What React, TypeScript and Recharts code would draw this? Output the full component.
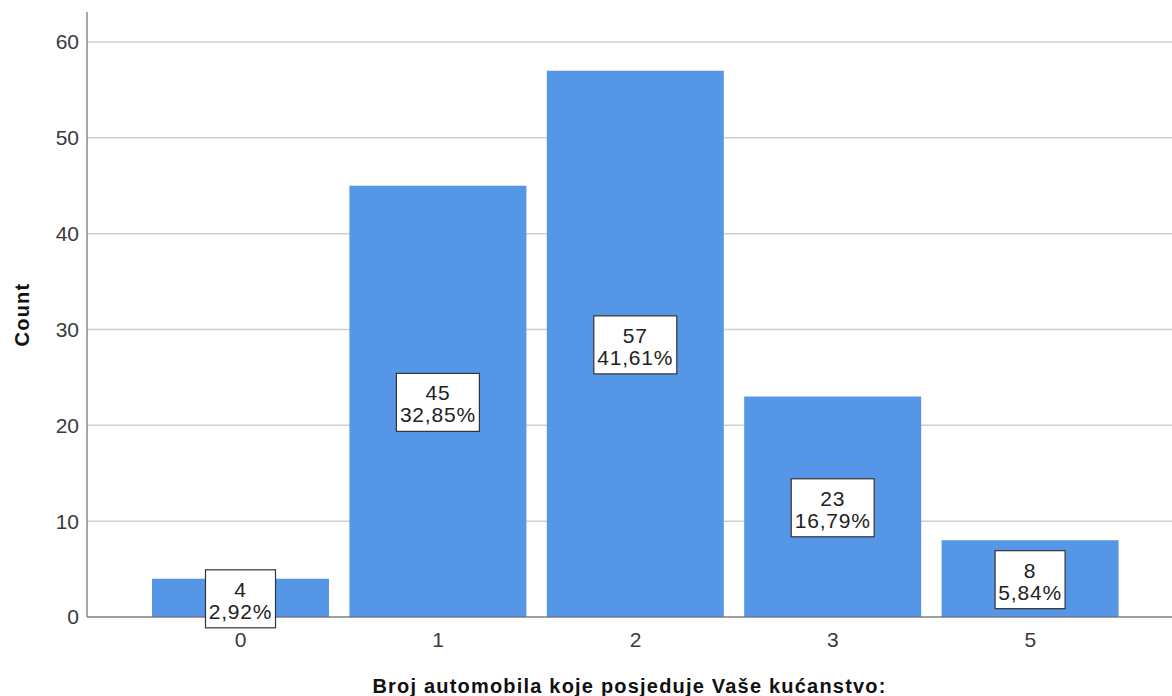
import React from 'react';
import { BarChart, Bar, XAxis, YAxis, CartesianGrid, LabelList } from 'recharts';

const categories = ['0', '1', '2', '3', '5'];
const counts = [4, 45, 57, 23, 8];
const percentLabels = ['2,92%', '32,85%', '41,61%', '16,79%', '5,84%'];
const yTicks = [0, 10, 20, 30, 40, 50, 60];
const yMax = 63.13;

const data = categories.map((c, i) => ({ cat: c, count: counts[i], pct: percentLabels[i] }));

const FONT = '"Liberation Sans", Arial, sans-serif';

// boxed label in the middle of each bar: count on top, percent below
const BoxLabel = (props: any) => {
  const { x, y, width, height, index } = props;
  const cx = x + width / 2;
  const cy = y + height / 2;
  const pct = percentLabels[index];
  const boxW = pct.length > 5 ? 83 : 70;
  const boxH = 58;
  return (
    <g>
      <rect x={cx - boxW / 2} y={cy - boxH / 2 + 1} width={boxW} height={boxH} fill="#fff" stroke="#333" strokeWidth={1.2} />
      <text x={cx} y={cy - 1} textAnchor="middle" fontFamily={FONT} fontSize={21} letterSpacing={0.8} fill="#222">
        {counts[index]}
      </text>
      <text x={cx} y={cy + 21} textAnchor="middle" fontFamily={FONT} fontSize={21} letterSpacing={0.8} fill="#222">
        {pct}
      </text>
    </g>
  );
};

// grid only at the tick values (no line at the top edge)
const gridRows = (props: any) => {
  const scale = props?.yAxis?.scale;
  if (typeof scale === 'function') return yTicks.map((t) => scale(t));
  if (scale && typeof scale.map === 'function') return yTicks.map((t) => scale.map(t));
  const { offset } = props;
  return yTicks.map((t) => offset.top + offset.height * (1 - t / yMax));
};

const App: React.FC = () => {
  return (
    <div style={{ position: 'absolute', left: 0, top: 0, width: 1172, height: 696, background: '#fff' }}>
      <BarChart
        width={1172}
        height={696}
        data={data}
        margin={{ top: 12, right: 0, left: 27, bottom: 19 }}
        barCategoryGap={10}
      >
        <CartesianGrid vertical={false} stroke="#cfcfcf" strokeWidth={1.5} horizontalCoordinatesGenerator={gridRows} />
        <XAxis
          dataKey="cat"
          height={60}
          padding={{ left: 55, right: 43 }}
          axisLine={{ stroke: '#666', strokeWidth: 1.2 }}
          tickLine={false}
          tick={{ fontSize: 21, fill: '#3a3a3a', fontFamily: FONT, dy: 7 }}
          label={{
            value: 'Broj automobila koje posjeduje Vaše kućanstvo:',
            position: 'insideBottom',
            offset: -16,
            style: { fontSize: 20, fontWeight: 'bold', fill: '#111', fontFamily: FONT, letterSpacing: 1.2 },
          }}
        />
        <YAxis
          width={60}
          domain={[0, yMax]}
          ticks={yTicks}
          axisLine={{ stroke: '#888', strokeWidth: 1.5 }}
          tickLine={false}
          interval={0}
          tick={{ fontSize: 21, fill: '#3a3a3a', fontFamily: FONT }}
          label={{
            value: 'Count',
            angle: -90,
            position: 'insideLeft',
            offset: -5,
            style: { textAnchor: 'middle', fontSize: 20, fontWeight: 'bold', fill: '#111', fontFamily: FONT, letterSpacing: 1.2 },
          }}
        />
        <Bar dataKey="count" fill="#5596e6" isAnimationActive={false}>
          <LabelList dataKey="count" content={BoxLabel} />
        </Bar>
      </BarChart>
    </div>
  );
};

export default App;
